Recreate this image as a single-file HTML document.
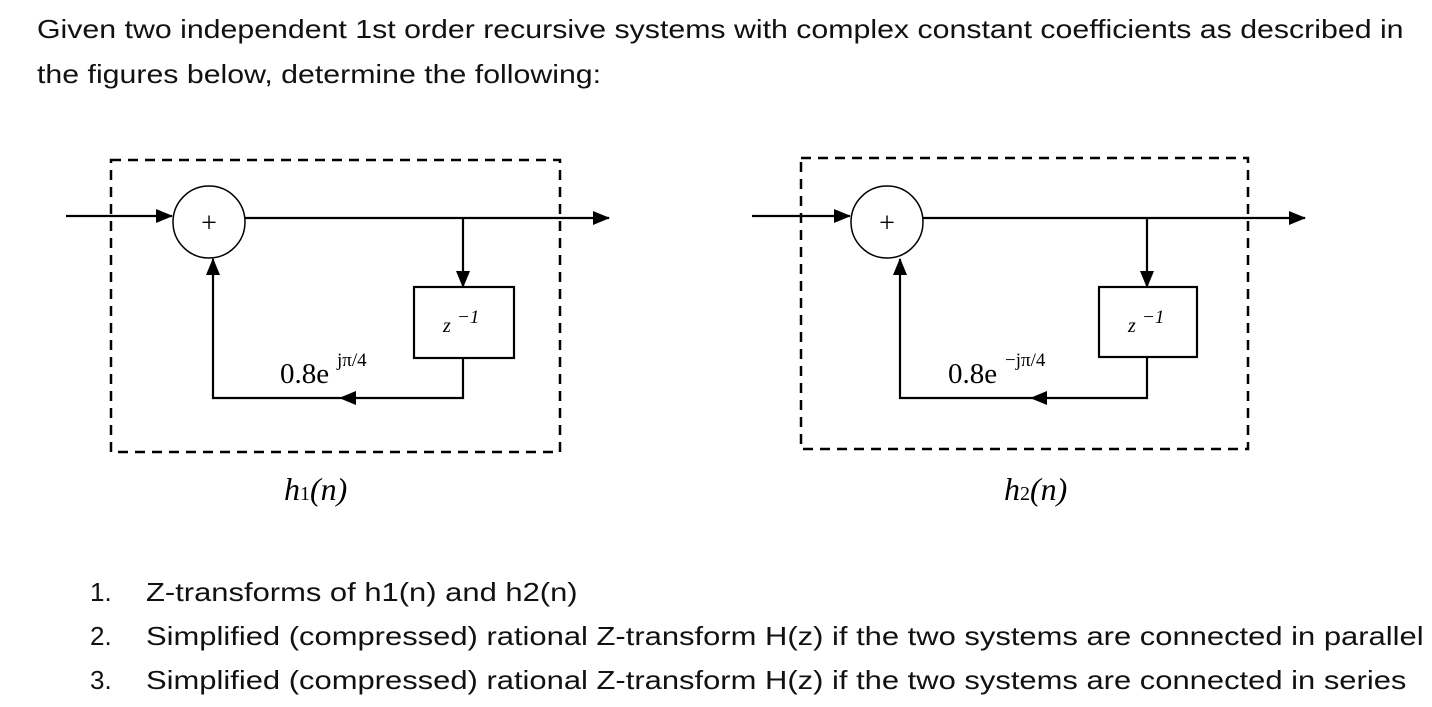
<!DOCTYPE html>
<html><head><meta charset="utf-8"><style>
body{margin:0;background:#fff;width:1432px;height:707px;overflow:hidden;position:relative;font-family:"Liberation Sans",sans-serif;color:#111}
.t{position:absolute;font-size:26px;white-space:nowrap;transform-origin:0 0}
</style></head><body>
<div class="t" style="left:37px;top:14px;transform:scaleX(1.165)">Given two independent 1st order recursive systems with complex constant coefficients as described in</div>
<div class="t" style="left:37px;top:59px;transform:scaleX(1.165)">the figures below, determine the following:</div>
<div class="t" style="left:90px;top:577px">1.</div>
<div class="t" style="left:90px;top:621px">2.</div>
<div class="t" style="left:90px;top:665px">3.</div>
<div class="t" style="left:146px;top:577px;transform:scaleX(1.19)">Z-transforms of h1(n) and h2(n)</div>
<div class="t" style="left:146px;top:621px;transform:scaleX(1.19)">Simplified (compressed) rational Z-transform H(z) if the two systems are connected in parallel</div>
<div class="t" style="left:146px;top:665px;transform:scaleX(1.19)">Simplified (compressed) rational Z-transform H(z) if the two systems are connected in series</div>
<svg width="1432" height="707" style="position:absolute;left:0;top:0" font-family="Liberation Serif,serif">
<defs><marker id="a" markerWidth="18" markerHeight="16" refX="16" refY="7" orient="auto" markerUnits="userSpaceOnUse"><path d="M0,0 L17,7 L0,14 z" fill="#000"/></marker></defs>
<g stroke="#000" stroke-width="2.2" fill="none">
<rect x="111" y="160" width="449" height="292" stroke-dasharray="10,7" stroke-width="2.5"/>
<circle cx="209" cy="222" r="36" stroke-width="1.5"/>
<line x1="66" y1="216" x2="172" y2="216" marker-end="url(#a)"/>
<line x1="245" y1="218" x2="609" y2="218" marker-end="url(#a)"/>
<line x1="463" y1="218" x2="463" y2="287" marker-end="url(#a)"/>
<rect x="414" y="287" width="100" height="71"/>
<polyline points="463,358 463,398 213,398 213,259" marker-end="url(#a)"/>
<path d="M356,391 L339,398 L356,405 z" fill="#000" stroke="none"/>

<rect x="801" y="158" width="447" height="291" stroke-dasharray="10,7" stroke-width="2.5"/>
<circle cx="887" cy="222" r="36" stroke-width="1.5"/>
<line x1="752" y1="216" x2="850" y2="216" marker-end="url(#a)"/>
<line x1="923" y1="218" x2="1305" y2="218" marker-end="url(#a)"/>
<line x1="1147" y1="218" x2="1147" y2="287" marker-end="url(#a)"/>
<rect x="1099" y="287" width="98" height="70"/>
<polyline points="1147,357 1147,398 900,398 900,259" marker-end="url(#a)"/>
<path d="M1047,391 L1030,398 L1047,405 z" fill="#000" stroke="none"/>
</g>
<g fill="#000">
<text x="209" y="232" font-size="28" text-anchor="middle">+</text>
<text x="887" y="232" font-size="28" text-anchor="middle">+</text>
<text x="443" y="332" font-size="20" font-style="italic">z</text><text x="457" y="323" font-size="19" font-style="italic">−1</text>
<text x="1128" y="332" font-size="20" font-style="italic">z</text><text x="1142" y="323" font-size="19" font-style="italic">−1</text>
<text x="280" y="383" font-size="29">0.8e</text><text x="337" y="366" font-size="19">jπ/4</text>
<text x="948" y="383" font-size="29">0.8e</text><text x="1005" y="366" font-size="19">−jπ/4</text>
<text x="284" y="500" font-size="32" font-style="italic">h<tspan font-size="20" font-style="normal">1</tspan>(n)</text>
<text x="1004" y="500" font-size="32" font-style="italic">h<tspan font-size="20" font-style="normal">2</tspan>(n)</text>
</g>
</svg>
</body></html>
